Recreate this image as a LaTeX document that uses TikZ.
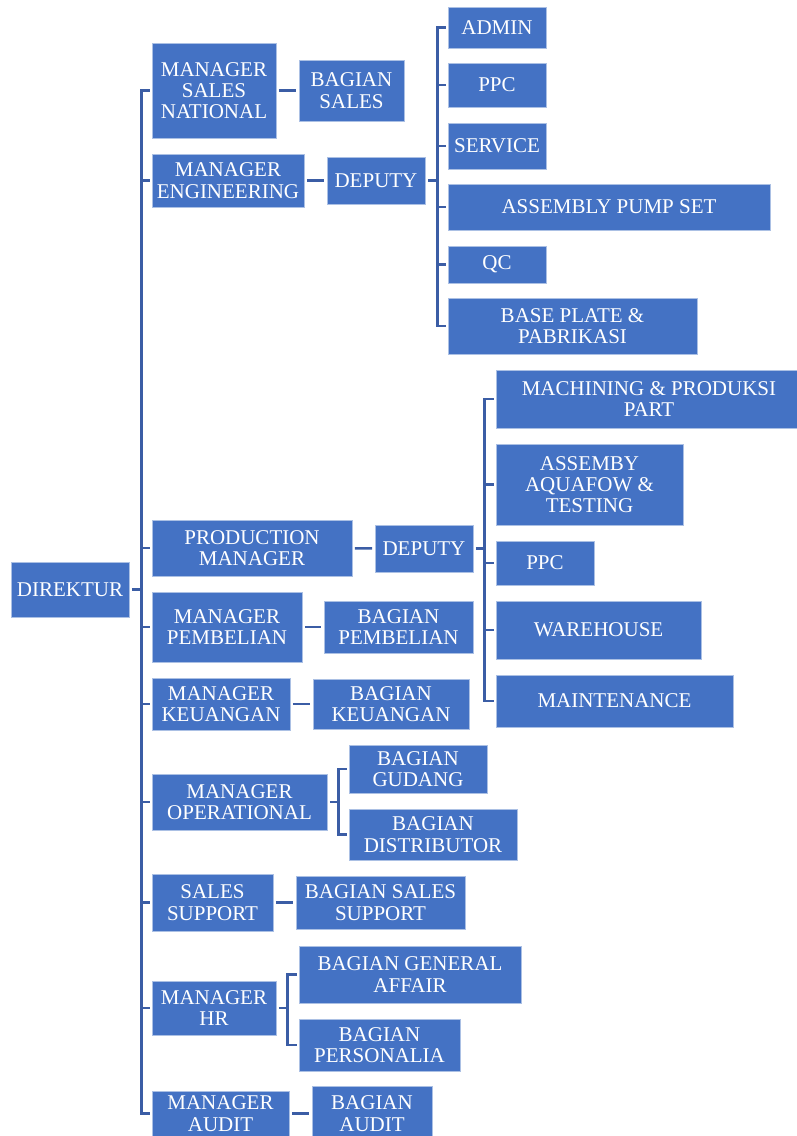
\documentclass[tikz,border=0pt]{standalone}
\usepackage{fontspec}
\setmainfont{Liberation Serif}
\definecolor{boxblue}{HTML}{4472C4}
\definecolor{linecol}{HTML}{3B5DA5}
\tikzset{
  orgbox/.style={rectangle, fill=boxblue, draw=white!55!boxblue, line width=0.8pt,
    inner sep=0pt, align=center, text=white,
    font=\fontsize{21}{21.3}\selectfont},
  conn/.style={draw=linecol, line width=2.5pt, line join=miter},
  gap/.style={shorten >=2.5pt, shorten <=2.5pt},
}
\newcommand{\bx}[6]{\node[orgbox, minimum width=#4pt, minimum height=#5pt] (#1) at (#2,#3) {#6};}
\begin{document}
\begin{tikzpicture}[x=1pt,y=-1pt]
\useasboundingbox (0,0) rectangle (797,1136);
% boxes
\bx{dir}{70}{589.5}{118}{55}{DIREKTUR}
\bx{msn}{214}{90.5}{124}{95}{MANAGER\\SALES\\NATIONAL}
\bx{bs}{351.5}{90.5}{105}{61}{BAGIAN\\SALES}
\bx{eng}{228}{180.5}{152}{53}{MANAGER\\ENGINEERING}
\bx{depa}{376}{180.5}{98}{47}{DEPUTY}
\bx{admin}{497}{27.5}{98}{41}{ADMIN}
\bx{ppca}{497}{85}{98}{44}{PPC}
\bx{serv}{497}{146}{98}{46}{SERVICE}
\bx{aps}{609}{207}{322}{46}{ASSEMBLY PUMP SET}
\bx{qc}{497}{264.5}{98}{37}{QC}
\bx{bplate}{572.5}{326}{249}{56}{BASE PLATE \&\\PABRIKASI}
\bx{prod}{252}{548}{200}{56}{PRODUCTION\\MANAGER}
\bx{depb}{424}{548.5}{98}{47}{DEPUTY}
\bx{mach}{649}{399}{306}{58}{MACHINING \& PRODUKSI\\PART}
\bx{asm}{589.5}{484.5}{187}{81}{ASSEMBY\\AQUAFOW \&\\TESTING}
\bx{ppcb}{545}{563}{98}{44}{PPC}
\bx{wh}{598.5}{630}{205}{58}{WAREHOUSE}
\bx{mt}{614.5}{701}{237}{52}{MAINTENANCE}
\bx{mp}{227}{627}{150}{70}{MANAGER\\PEMBELIAN}
\bx{bpem}{398.5}{627}{149}{52}{BAGIAN\\PEMBELIAN}
\bx{mk}{221}{704}{138}{52}{MANAGER\\KEUANGAN}
\bx{bk}{391}{704}{156}{50}{BAGIAN\\KEUANGAN}
\bx{mo}{239.5}{802}{175}{56}{MANAGER\\OPERATIONAL}
\bx{bg}{418}{769}{138}{48}{BAGIAN\\GUDANG}
\bx{bd}{433}{834.5}{168}{51}{BAGIAN\\DISTRIBUTOR}
\bx{ss}{212.5}{902.5}{121}{57}{SALES\\SUPPORT}
\bx{bss}{380.5}{902.5}{169}{53}{BAGIAN SALES\\SUPPORT}
\bx{hr}{214}{1008}{124}{54}{MANAGER\\HR}
\bx{bga}{410}{974.5}{222}{57}{BAGIAN GENERAL\\AFFAIR}
\bx{bper}{379.5}{1045}{161}{52}{BAGIAN\\PERSONALIA}
\bx{ma}{220.5}{1113.5}{137}{45}{MANAGER\\AUDIT}
\bx{ba}{372}{1113.5}{120}{55}{BAGIAN\\AUDIT}
% trunk from DIREKTUR
\draw[conn, shorten <=2.5pt] (dir.east) -- ++(12,0) coordinate (tr);
\foreach \m in {msn,eng,prod,mp,mk,mo,ss,hr,ma}
  \draw[conn, shorten >=2pt] (tr) |- (\m.west);
% simple links
\foreach \a/\b in {msn/bs,eng/depa,prod/depb,mp/bpem,mk/bk,ss/bss,ma/ba}
  \draw[conn, gap] (\a) -- (\b);
% engineering deputy bracket
\draw[conn, shorten <=2.5pt] (depa.east) -- ++(12,0) coordinate (bra);
\foreach \m in {admin,ppca,serv,aps,qc,bplate}
  \draw[conn, shorten >=1.5pt] (bra) |- (\m.west);
% production deputy bracket
\draw[conn, shorten <=2.5pt] (depb.east) -- ++(11,0) coordinate (brb);
\foreach \m in {mach,asm,ppcb,wh,mt}
  \draw[conn, shorten >=1.5pt] (brb) |- (\m.west);
% operational bracket
\draw[conn, shorten <=2.5pt] (mo.east) -- ++(11,0) coordinate (brc);
\foreach \m in {bg,bd}
  \draw[conn, shorten >=1.5pt] (brc) |- (\m.west);
% HR bracket
\draw[conn, shorten <=2.5pt] (hr.east) -- ++(11,0) coordinate (brd);
\foreach \m in {bga,bper}
  \draw[conn, shorten >=1.5pt] (brd) |- (\m.west);
\end{tikzpicture}
\end{document}
